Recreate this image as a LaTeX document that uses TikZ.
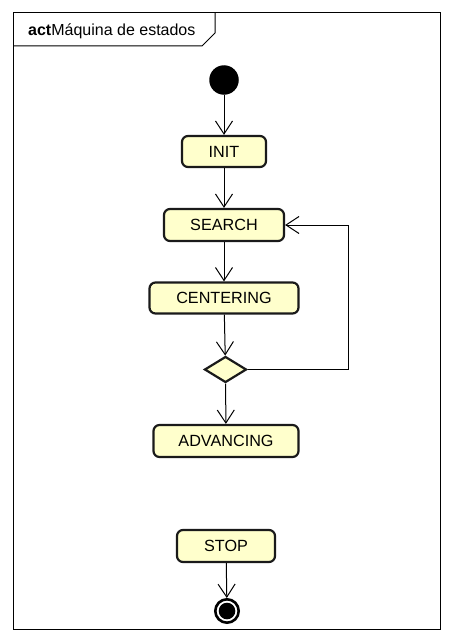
\documentclass[tikz,border=0pt]{standalone}
\usepackage{fontspec}
\setmainfont{Liberation Sans}
\usetikzlibrary{arrows.meta,shapes.geometric}
\definecolor{boxfill}{HTML}{FFFFCC}
\definecolor{boxline}{HTML}{1A1A1A}
\tikzset{
  statebox/.style={draw=boxline, fill=boxfill, line width=2.2pt, rounded corners=6pt,
    inner sep=0pt, font=\fontsize{16.2}{19}\selectfont, text=black},
  flow/.style={line width=1pt, -{Straight Barb[length=13pt,width=17pt,line width=1pt]}},
  framebox/.style={line width=1pt},
}
\begin{document}
\begin{tikzpicture}[x=1pt,y=-1pt]
\useasboundingbox (0,0) rectangle (453,642);
% frame
\draw[framebox] (13,13) rectangle (440,629);
\draw[framebox] (13,46) -- (202,46) -- (215,33) -- (215,13);
\node[anchor=west, inner sep=0pt, font=\fontsize{16}{19}\selectfont] (title) at (28,31.5) {\textbf{act}Máquina de estados};
% nodes
\node[circle, fill=black, minimum size=29.5pt, inner sep=0pt] (start) at (224,80) {};
\node[statebox, minimum width=84pt, minimum height=31pt] (init) at (224,151.5) {INIT};
\node[statebox, minimum width=120pt, minimum height=32pt] (search) at (224,225) {SEARCH};
\node[statebox, minimum width=149pt, minimum height=31pt] (center) at (224,298) {CENTERING};
\node[diamond, draw=boxline, fill=boxfill, line width=2.2pt, inner sep=0pt, minimum width=42pt, minimum height=26pt] (dec) at (225.5,369.5) {};
\node[statebox, minimum width=145pt, minimum height=32pt] (adv) at (226,441) {ADVANCING};
\node[statebox, minimum width=98pt, minimum height=32pt] (stop) at (226,546) {STOP};
\node[circle, draw=black, line width=2.6pt, fill=white, minimum size=23.4pt, inner sep=0pt] (final) at (227,611) {};
\fill[black] (final.center) circle (8.3pt);
% connectors
\draw[flow] (start) -- (init);
\draw[flow] (init) -- (search);
\draw[flow] (search) -- (center);
\draw[flow] (center) -- (dec);
\draw[flow] (dec) -- (adv);
\coordinate (loopc) at (348,369.5);
\draw[flow] (dec.east) -- (loopc) |- (search.east);
\draw[flow] (stop) -- (final);
\end{tikzpicture}
\end{document}
